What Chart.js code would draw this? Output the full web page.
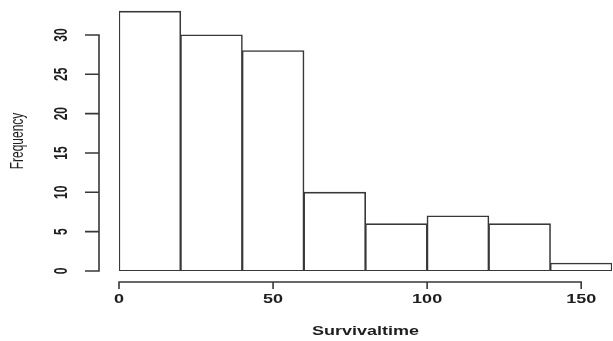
<!DOCTYPE html>
<html>
<head>
<meta charset="utf-8">
<script src="https://cdn.jsdelivr.net/npm/chart.js@4/dist/chart.umd.min.js"></script>
<style>
html,body{margin:0;padding:0;background:#fff;overflow:hidden;}
canvas{display:block;}
</style>
</head>
<body>
<canvas id="c" width="613" height="341"></canvas>
<script>
// ---- data ----
const binEdges = [0, 20, 40, 60, 80, 100, 120, 140, 160];
const frequencies = [33, 30, 28, 10, 6, 7, 6, 1];
const xTickValues = [0, 50, 100, 150];
const yTickValues = [0, 5, 10, 15, 20, 25, 30];
const xTitle = 'Survivaltime';
const yTitle = 'Frequency';

const barData = frequencies.map((f, i) => ({ x: (binEdges[i] + binEdges[i + 1]) / 2, y: f }));

const STRETCH = 1.5;
const LINE = '#383838';
const LW = 1.6;
const TEXT = '#1e1e1e';

function stretchedText(ctx, text, cx, cy, rotate) {
  ctx.save();
  ctx.translate(cx, cy);
  ctx.scale(STRETCH, 1);
  if (rotate) ctx.rotate(-Math.PI / 2);
  ctx.textAlign = 'center';
  ctx.textBaseline = 'middle';
  ctx.fillText(text, 0, 0);
  ctx.restore();
}

const rAxes = {
  id: 'rAxes',
  beforeDraw(chart) {
    const ctx = chart.ctx;
    ctx.save();
    ctx.fillStyle = '#fff';
    ctx.fillRect(0, 0, chart.width, chart.height);
    ctx.restore();
  },
  afterDraw(chart) {
    const ctx = chart.ctx;
    const xs = chart.scales.x, ys = chart.scales.y;
    ctx.save();
    ctx.strokeStyle = LINE;
    ctx.lineWidth = LW;
    ctx.fillStyle = TEXT;

    // y axis (R style, offset left of the plot)
    const ax = xs.left - 20;
    const yMinP = ys.getPixelForValue(yTickValues[0]);
    const yMaxP = ys.getPixelForValue(yTickValues[yTickValues.length - 1]);
    ctx.beginPath();
    ctx.moveTo(ax, yMinP + LW / 2);
    ctx.lineTo(ax, yMaxP - LW / 2);
    yTickValues.forEach(v => {
      const p = ys.getPixelForValue(v);
      ctx.moveTo(ax, p);
      ctx.lineTo(ax - 14, p);
    });
    ctx.stroke();
    ctx.font = 'bold 12px "Liberation Sans", Arial, sans-serif';
    yTickValues.forEach(v => {
      stretchedText(ctx, String(v), ax - 37, ys.getPixelForValue(v), true);
    });

    // x axis (R style, offset below the plot)
    const ay = ys.bottom + 11;
    const xMinP = xs.getPixelForValue(xTickValues[0]);
    const xMaxP = xs.getPixelForValue(xTickValues[xTickValues.length - 1]);
    ctx.beginPath();
    ctx.moveTo(xMinP - LW / 2, ay);
    ctx.lineTo(xMaxP + LW / 2, ay);
    xTickValues.forEach(v => {
      const p = xs.getPixelForValue(v);
      ctx.moveTo(p, ay);
      ctx.lineTo(p, ay + 7);
    });
    ctx.stroke();
    xTickValues.forEach(v => {
      stretchedText(ctx, String(v), xs.getPixelForValue(v), ay + 18, false);
    });

    // titles
    ctx.font = 'bold 12px "Liberation Sans", Arial, sans-serif';
    stretchedText(ctx, xTitle, (xs.left + xs.right) / 2, ay + 50, false);
    ctx.font = '12px "Liberation Sans", Arial, sans-serif';
    stretchedText(ctx, yTitle, 18, 141, true);
    ctx.restore();
  }
};

new Chart(document.getElementById('c'), {
  type: 'bar',
  data: {
    datasets: [{
      data: barData,
      backgroundColor: '#ffffff',
      borderColor: LINE,
      borderWidth: LW,
      borderSkipped: false,
      inflateAmount: 0.5,
      barPercentage: 1,
      categoryPercentage: 1
    }]
  },
  options: {
    responsive: false,
    devicePixelRatio: 1,
    animation: false,
    layout: { padding: { left: 119, right: 1, top: 3.5, bottom: 70 } },
    plugins: { legend: { display: false }, tooltip: { enabled: false } },
    scales: {
      x: {
        type: 'linear', display: false, offset: false,
        min: binEdges[0], max: binEdges[binEdges.length - 1],
        grid: { offset: false }
      },
      y: { type: 'linear', display: false, min: 0, max: 34 }
    }
  },
  plugins: [rAxes]
});
</script>
</body>
</html>
